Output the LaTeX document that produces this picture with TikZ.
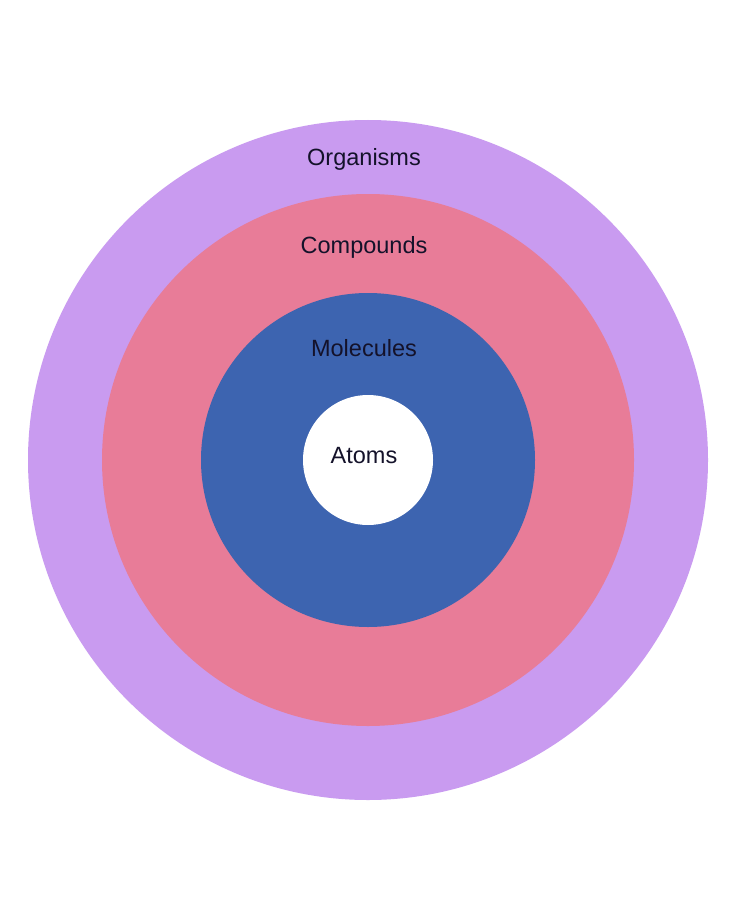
\documentclass[tikz,border=0pt]{standalone}
\usepackage{fontspec}
\setmainfont{Liberation Sans}
\definecolor{cpurple}{HTML}{C99BF0}
\definecolor{cpink}{HTML}{E87C98}
\definecolor{cblue}{HTML}{3D64B0}
\definecolor{ctext}{HTML}{14122A}
\begin{document}
\begin{tikzpicture}[x=1pt,y=-1pt,
  ring/.style={circle,draw=none,inner sep=0pt},
  lbl/.style={text=ctext,font=\fontsize{23.5}{26}\selectfont}]
\useasboundingbox (0,0) rectangle (736,920);
\fill[white] (0,0) rectangle (736,920);
\node[ring,fill=cpurple,minimum size=680pt] (org) at (368,460) {};
\node[ring,fill=cpink,minimum size=532pt] (comp) at (368,460) {};
\node[ring,fill=cblue,minimum size=334pt] (mol) at (368,460) {};
\node[ring,fill=white,minimum size=130pt] (atom) at (368,460) {};
\node[lbl] (l1) at (364,159) {Organisms};
\node[lbl] (l2) at (364,247) {Compounds};
\node[lbl] (l3) at (364,348) {Molecules};
\node[lbl] (l4) at (364,456) {Atoms};
\end{tikzpicture}
\end{document}
